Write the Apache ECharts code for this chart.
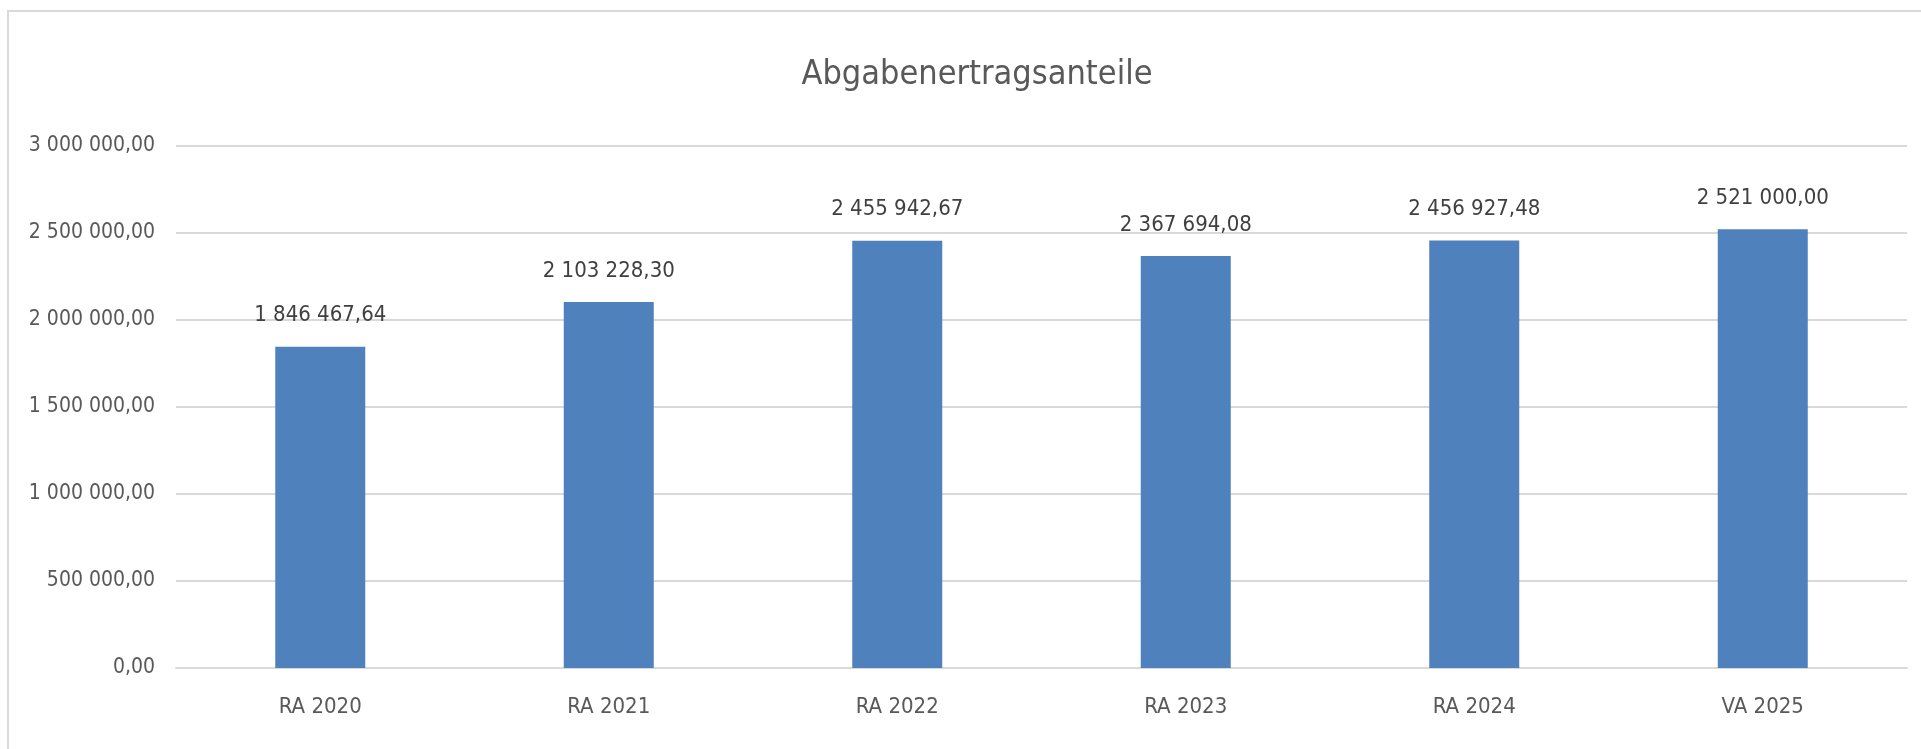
<!DOCTYPE html>
<html>
<head>
<meta charset="utf-8">
<title>Abgabenertragsanteile</title>
<script src="https://cdn.jsdelivr.net/npm/echarts@6/dist/echarts.min.js"></script>
<style>
html, body { margin: 0; padding: 0; background: #fff; overflow: hidden; }
.frame {
  position: absolute;
  left: 7px;
  top: 10px;
  width: 2100px;
  height: 900px;
  border: 2px solid #d9d9d9;
}
#chart {
  position: absolute;
  left: 0;
  top: 0;
  width: 1921px;
  height: 749px;
}
</style>
</head>
<body>
<div class="frame"></div>
<div id="chart"></div>
<script>
const chartTitle = 'Abgabenertragsanteile'
const categories = ['RA 2020', 'RA 2021', 'RA 2022', 'RA 2023', 'RA 2024', 'VA 2025']
const values = [1846467.64, 2103228.30, 2455942.67, 2367694.08, 2456927.48, 2521000.00]
const yMin = 0
const yMax = 3000000
const yStep = 500000

const fontNarrow = '"Liberation Sans Narrow", "DejaVu Sans Condensed", "Liberation Sans", sans-serif'

// 1234567.8 -> "1 234 567,80"
const formatNumber = (v) => {
  const parts = Number(v).toFixed(2).split('.')
  const intPart = parts[0].replace(/\B(?=(\d{3})+(?!\d))/g, ' ')
  return intPart + ',' + parts[1]
}

const chartInstance = echarts.init(document.getElementById('chart'))

const option = {
  animation: false,
  backgroundColor: 'transparent',
  title: {
    text: chartTitle,
    left: 972,
    top: 53,
    textAlign: 'center',
    textStyle: {
      fontFamily: fontNarrow,
      fontSize: 34,
      fontWeight: 'normal',
      color: '#595959'
    }
  },
  grid: {
    left: 176,
    right: 14,
    top: 146,
    bottom: 81
  },
  xAxis: {
    type: 'category',
    data: categories,
    axisLine: { show: true, lineStyle: { color: '#d9d9d9', width: 2 } },
    axisTick: { show: false },
    axisLabel: {
      margin: 28,
      fontFamily: fontNarrow,
      fontSize: 22,
      color: '#595959'
    }
  },
  yAxis: {
    type: 'value',
    min: yMin,
    max: yMax,
    interval: yStep,
    axisLine: { show: false },
    axisTick: { show: false },
    splitLine: { lineStyle: { color: '#d9d9d9', width: 2 } },
    axisLabel: {
      margin: 21,
      fontFamily: fontNarrow,
      fontSize: 21,
      color: '#595959',
      formatter: formatNumber
    }
  },
  series: [
    {
      name: chartTitle,
      type: 'bar',
      data: values,
      barWidth: 90,
      itemStyle: { color: '#4f81bd' },
      label: {
        show: true,
        position: 'top',
        distance: 20,
        fontFamily: fontNarrow,
        fontSize: 22,
        color: '#404040',
        formatter: (p) => formatNumber(p.value)
      }
    }
  ]
}

chartInstance.setOption(option)
</script>
</body>
</html>
